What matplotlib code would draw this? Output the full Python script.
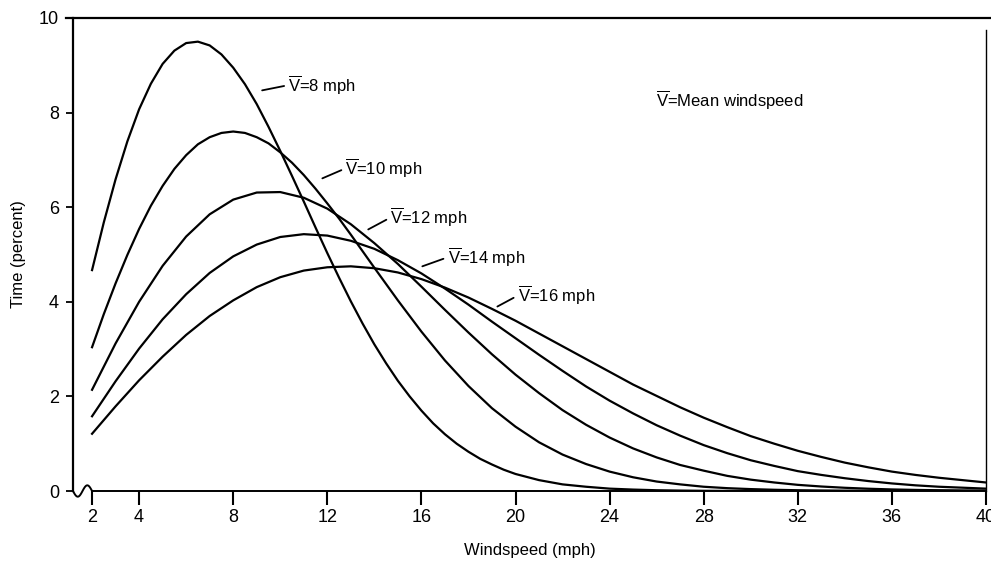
"""Rayleigh windspeed distributions for several mean windspeeds."""

import numpy as np
import matplotlib

matplotlib.use("Agg")
import matplotlib.pyplot as plt
from matplotlib.lines import Line2D

plt.rcParams["font.family"] = ["Liberation Sans", "DejaVu Sans"]
plt.rcParams["mathtext.fontset"] = "custom"
plt.rcParams["mathtext.rm"] = "Liberation Sans"
plt.rcParams["mathtext.it"] = "Liberation Sans"

# windspeed (mph) at which the curves were read
windspeed = list(range(2, 41))
# the two peaked curves were read every half mph near their peak
windspeed_v8 = list(np.arange(2, 20.5, 0.5)) + list(range(21, 41))
windspeed_v10 = list(np.arange(2, 14, 0.5)) + list(range(14, 41))

# time (percent) for each mean windspeed
time_v8 = [4.67, 5.68, 6.59, 7.39, 8.07, 8.61, 9.03, 9.31, 9.47, 9.50, 9.42, 9.23,
           8.95, 8.60, 8.18, 7.70, 7.19, 6.66, 6.12, 5.57, 5.03, 4.51, 4.01, 3.54,
           3.10, 2.70, 2.33, 2.00, 1.70, 1.43, 1.20, 1.00, 0.83, 0.68, 0.56, 0.45,
           0.36,
           0.23, 0.14, 0.09, 0.05, 0.03, 0.016, 0.009, 0.004, 0.002, 0.001,
           0, 0, 0, 0, 0, 0, 0, 0, 0, 0]
time_v10 = [3.04, 3.74, 4.39, 4.99, 5.54, 6.03, 6.45, 6.81, 7.10, 7.33, 7.48, 7.57,
            7.60, 7.57, 7.48, 7.35, 7.16, 6.94, 6.68, 6.39, 6.08, 5.76, 5.42, 5.07,
            4.72, 4.03, 3.37, 2.76, 2.22, 1.75, 1.36, 1.03, 0.77, 0.57, 0.41, 0.29,
            0.20, 0.14, 0.09, 0.06, 0.04, 0.026, 0.016, 0.010, 0.006, 0.004, 0.002,
            0.001, 0.001, 0, 0]
time_v12 = [2.14, 3.12, 4.00, 4.76, 5.38, 5.85, 6.16, 6.31, 6.32, 6.20, 5.97, 5.64,
            5.24, 4.80, 4.32, 3.83, 3.35, 2.89, 2.46, 2.07, 1.71, 1.40, 1.13, 0.90,
            0.71, 0.55, 0.43, 0.32, 0.24, 0.18, 0.13, 0.095, 0.068, 0.048, 0.033,
            0.023, 0.016, 0.011, 0.007]
time_v14 = [1.58, 2.32, 3.01, 3.63, 4.16, 4.61, 4.96, 5.21, 5.37, 5.43, 5.40, 5.29,
            5.12, 4.88, 4.60, 4.28, 3.94, 3.58, 3.23, 2.88, 2.54, 2.21, 1.91, 1.64,
            1.39, 1.17, 0.97, 0.80, 0.65, 0.53, 0.42, 0.34, 0.27, 0.21, 0.16, 0.12,
            0.09, 0.07, 0.05]
time_v16 = [1.21, 1.79, 2.34, 2.84, 3.30, 3.70, 4.03, 4.31, 4.52, 4.66, 4.73, 4.75,
            4.71, 4.62, 4.48, 4.30, 4.09, 3.85, 3.60, 3.33, 3.06, 2.79, 2.52, 2.25,
            2.01, 1.77, 1.55, 1.35, 1.16, 1.00, 0.85, 0.72, 0.60, 0.50, 0.41, 0.34,
            0.28, 0.23, 0.18]

series = [
    (windspeed_v8, time_v8),
    (windspeed_v10, time_v10),
    (windspeed, time_v12),
    (windspeed, time_v14),
    (windspeed, time_v16),
]
curve_labels = ["8", "10", "12", "14", "16"]

x_ticks = [2, 4, 8, 12, 16, 20, 24, 28, 32, 36, 40]
y_ticks = [0, 2, 4, 6, 8, 10]

# (curve end of leader, text anchor) in data units
label_pos = [
    ((9.23, 8.47), (10.34, 8.58)),
    ((11.79, 6.61), (12.77, 6.82)),
    ((13.74, 5.53), (14.68, 5.78)),
    ((16.04, 4.75), (17.11, 4.94)),
    ((19.23, 3.90), (20.09, 4.13)),
]

vbar = r"$\overline{\mathrm{V}}$"

fig = plt.figure(figsize=(9.91, 5.64), dpi=100)
ax = fig.add_axes([73 / 991, 73 / 564, 913 / 991, 473 / 564])

for xs, vals in series:
    ax.plot(xs, vals, color="black", linewidth=1.6, solid_joinstyle="round")

for lab, (pt, txt) in zip(curve_labels, label_pos):
    ax.annotate(
        f"{vbar}={lab} mph", xy=pt, xytext=txt, ha="left", va="center", fontsize=12,
        arrowprops=dict(arrowstyle="-", lw=1.3, color="black", relpos=(0, 0.5),
                        shrinkA=1, shrinkB=0),
    )

ax.text(25.96, 8.26, f"{vbar}=Mean windspeed", ha="left", va="center", fontsize=12)

ax.set_xlim(1.19, 40)
ax.set_ylim(0, 10)
ax.set_xticks(x_ticks)
ax.set_yticks(y_ticks)
ax.tick_params(axis="x", direction="out", length=10, width=1.5, pad=3, labelsize=13)
ax.tick_params(axis="y", direction="out", length=5, width=1.3, pad=5, labelsize=13)

ax.spines["top"].set_visible(False)
ax.spines["left"].set_linewidth(1.6)
ax.spines["bottom"].set_linewidth(1.4)
ax.spines["bottom"].set_bounds(2, 40)
ax.spines["right"].set_linewidth(1.0)
ax.spines["right"].set_bounds(0, 9.75)

# axis break squiggle between the y axis and x = 2
t = np.linspace(0, 1, 40)
ax.plot(1.19 + 0.81 * t, -0.12 * np.sin(2 * np.pi * t), color="black", lw=1.4, clip_on=False)

# top rule runs off the right edge of the page
fig.add_artist(Line2D([66 / 991, 1.0], [546 / 564, 546 / 564], color="black", lw=1.6))

ax.set_xlabel("Windspeed (mph)", fontsize=12, labelpad=12)
ax.set_ylabel("Time (percent)", fontsize=12)
ax.yaxis.set_label_coords(-0.052, 0.5)

fig.savefig("out.png", dpi=100)
plt.close(fig)
